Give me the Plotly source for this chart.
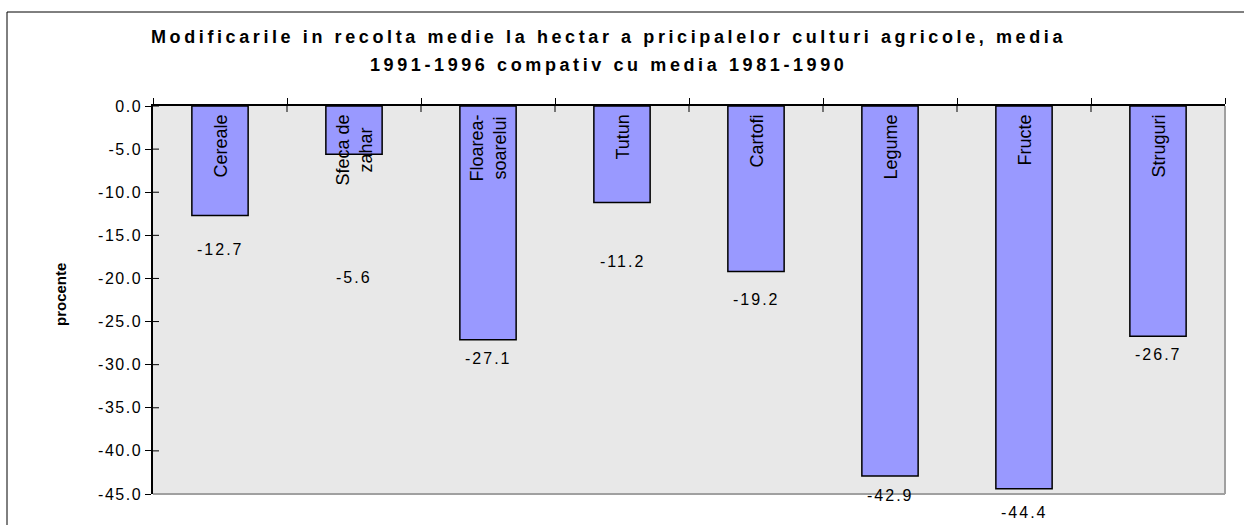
"""
plot.py — Modificarile in recolta medie la hectar (1991-1996 vs 1981-1990)
"""
import plotly.graph_objects as go

# ─── Donnees ──────────────────────────────────────────────────────────────────
CULTURI = ["Cereale", "Sfecla de zahar", "Floarea-soarelui", "Tutun",
           "Cartofi", "Legume", "Fructe", "Struguri"]
ETICHETE = ["Cereale", "Sfeca de<br>zahar", "Floarea-<br>soarelui", "Tutun",
            "Cartofi", "Legume", "Fructe", "Struguri"]
MODIFICARI = [-12.7, -5.6, -27.1, -11.2, -19.2, -42.9, -44.4, -26.7]
Y_TICKS = [0, -5, -10, -15, -20, -25, -30, -35, -40, -45]

# decalage (px) des etiquettes de valeur sous les barres, comme dans l'original
LABEL_SHIFT = [34, 123, 19, 59, 28, 20, 24, 18]

# ─── Style ────────────────────────────────────────────────────────────────────
FONT = "Liberation Sans, Arial, sans-serif"
BAR = "#9999FF"
BG = "#E8E8E8"
L, R, T, B = 153, 19, 106, 31
W, H = 1244, 525
PW, PH = W - L - R, H - T - B


def px_x(px):
    return (px - L) / PW


def px_y(py):
    return (H - B - py) / PH


def spaced(txt, sp):
    return f'<span style="letter-spacing:{sp}px">{txt}</span>'


fig = go.Figure(go.Bar(
    x=CULTURI, y=MODIFICARI,
    marker=dict(color=BAR, line=dict(color="black", width=1.5)),
    width=0.42,
    hoverinfo="x+y",
))

annotations = []
# titre sur deux lignes
for txt, py in [("Modificarile in recolta medie la hectar a pricipalelor culturi agricole, media", 37),
                ("1991-1996 compativ cu media 1981-1990", 65)]:
    annotations.append(dict(
        text=spaced(txt, 3.6), xref="paper", yref="paper", x=px_x(608), y=px_y(py),
        xanchor="center", yanchor="middle", showarrow=False,
        font=dict(family=FONT, size=18, color="black", weight="bold"),
    ))
# titre axe Y
annotations.append(dict(
    text="procente", xref="paper", yref="paper", x=px_x(60), y=px_y(295),
    textangle=-90, showarrow=False, xanchor="center", yanchor="middle",
    font=dict(family=FONT, size=15, color="black", weight="bold"),
))
# etiquettes dans les barres + valeurs
for cat, lab, val, sh in zip(CULTURI, ETICHETE, MODIFICARI, LABEL_SHIFT):
    annotations.append(dict(
        text=lab, x=cat, y=0, xref="x", yref="y", textangle=-90,
        xanchor="center", yanchor="top", yshift=-7, showarrow=False,
        font=dict(family=FONT, size=18, color="black"),
    ))
    annotations.append(dict(
        text=spaced(f"{val:.1f}", 2), x=cat, y=val, xref="x", yref="y",
        xanchor="center", yanchor="middle", yshift=-sh, showarrow=False,
        font=dict(family=FONT, size=16, color="black"),
    ))

shapes = []
# partie interieure des graduations (croisees)
for i in range(len(CULTURI)):
    shapes.append(dict(type="line", xref="x", yref="paper", ysizemode="pixel",
                       yanchor=1, x0=i + 0.5, x1=i + 0.5, y0=-6, y1=0,
                       line=dict(color="black", width=1)))
for v in Y_TICKS:
    shapes.append(dict(type="line", xref="paper", yref="y", xsizemode="pixel",
                       xanchor=0, x0=0, x1=6, y0=v, y1=v,
                       line=dict(color="black", width=1)))
# bords droit et bas gris
shapes.append(dict(type="line", xref="paper", yref="paper", x0=1, x1=1, y0=0, y1=1,
                   line=dict(color="#A0A0A0", width=2)))
shapes.append(dict(type="line", xref="paper", yref="paper", x0=0, x1=1, y0=0, y1=0,
                   line=dict(color="#A0A0A0", width=2)))
# cadre exterieur
shapes.append(dict(type="rect", xref="paper", yref="paper", x0=px_x(7), x1=px_x(1300),
                   y0=px_y(600), y1=px_y(12), line=dict(color="black", width=1)))

fig.update_layout(
    width=W, height=H,
    margin=dict(l=L, r=R, t=T, b=B),
    paper_bgcolor="white", plot_bgcolor=BG,
    font=dict(family=FONT, color="black"),
    showlegend=False,
    annotations=annotations,
    shapes=shapes,
    xaxis=dict(
        type="category", side="top", range=[-0.5, 7.5],
        showticklabels=False, ticks="outside", tickson="boundaries",
        ticklen=6, tickcolor="black", showline=True, linecolor="black",
        linewidth=1.5, showgrid=False, zeroline=False,
    ),
    yaxis=dict(
        range=[-45, 0], tickvals=Y_TICKS,
        ticktext=[spaced(f"{v:.1f}", 1.5) for v in Y_TICKS],
        ticks="outside", ticklen=6, tickcolor="black",
        tickfont=dict(family=FONT, size=16, color="black"),
        showline=True, linecolor="black", linewidth=1.5,
        showgrid=False, zeroline=False,
    ),
)

fig.write_html("out.html", config={"displayModeBar": False},
               post_script="document.body.style.margin='0';")
